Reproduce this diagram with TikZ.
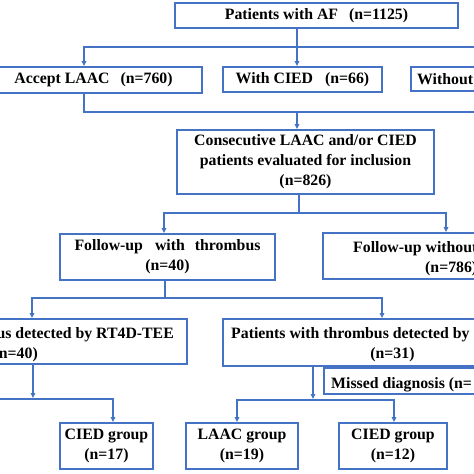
\documentclass[tikz,border=0pt]{standalone}
\usepackage{fontspec}
\setmainfont{Liberation Serif}
\usetikzlibrary{arrows.meta}
\definecolor{bl}{HTML}{4472C4}
\newcommand{\fsz}{\fontsize{15.8}{20}\selectfont\bfseries}
\begin{document}
\begin{tikzpicture}[x=1pt,y=-1pt,
  box/.style={draw=bl, line width=1.8pt, inner sep=0pt, align=center, font=\fsz},
  txt/.style={inner sep=0pt, font=\fsz},
  conn/.style={draw=bl, line width=1.8pt},
  arr/.style={conn, -{Triangle[length=5pt,width=4.5pt]}}]
\useasboundingbox (0,0) rectangle (474,474);
\clip (0,0) rectangle (474,474);
\fill[white] (0,0) rectangle (474,474);

% boxes
\node[box, minimum width=283pt, minimum height=25pt] (top) at (316.5,15.5) {Patients with AF\hspace{11pt}(n=1125)};
\node[box, minimum width=217pt, minimum height=26pt] (laac) at (93.5,80) {Accept LAAC\hspace{11pt}(n=760)};
\node[box, minimum width=159pt, minimum height=25pt] (cied) at (302.5,79.5) {With CIED\hspace{12pt}(n=66)};
\node[box, minimum width=200pt, minimum height=24pt] (without) at (511,79) {};
\node[box, minimum width=257pt, minimum height=64pt] (cons) at (305.5,162) {Consecutive LAAC and/or CIED\\patients evaluated for inclusion\\(n=826)};
\node[box, minimum width=215pt, minimum height=46pt] (fwith) at (167.5,257) {Follow-up\hspace{12pt}with\hspace{10pt}thrombus\\(n=40)};
\node[box, minimum width=255pt, minimum height=46pt] (fwo) at (450.5,256) {};
\node[box, minimum width=341pt, minimum height=45pt] (ldet) at (16.5,341.5) {};
\node[box, minimum width=339pt, minimum height=47pt] (rdet) at (392.5,342.5) {};
\node[box, minimum width=200pt, minimum height=26pt] (missed) at (424,381) {};
\node[box, minimum width=93pt, minimum height=46pt] (c17) at (106.5,446) {CIED group\\(n=17)};
\node[box, minimum width=112pt, minimum height=46pt] (l19) at (242,446) {LAAC group\\(n=19)};
\node[box, minimum width=108pt, minimum height=46pt] (c12) at (393,446) {CIED group\\(n=12)};

% texts of the boxes cut by the picture's edge
\node[txt, anchor=base west] (wotxt) at (417,84) {Without};
\node[txt, anchor=base west] (fwo1) at (353,252.5) {Follow-up without};
\node[txt, anchor=base west] (fwo2) at (425,272.5) {(n=786)};
\node[txt, anchor=base east] (ld1) at (174,338.5) {us detected by RT4D-TEE};
\node[txt, anchor=base east] (ld2) at (38,358.5) {n=40)};
\node[txt, anchor=base west] (rd1) at (231,338.5) {Patients with thrombus detected by};
\node[txt, anchor=base] (rd2) at (392.5,358.5) {(n=31)};
\node[txt, anchor=base west] (ms) at (331,388.5) {Missed diagnosis (n=};

% level 1
\coordinate (j1) at (297,47);
\coordinate (h1l) at (84,47);
\coordinate (h1r) at (511,47);
\draw[conn] (j1 |- top.south) -- (j1);
\draw[arr] (j1) -- (h1l) -- (h1l |- laac.north);
\draw[arr] (j1) -- (h1r) -- (h1r |- without.north);
\draw[arr] (j1) -- (j1 |- cied.north);

% level 2
\coordinate (h2l) at (84,112);
\coordinate (h2r) at (511,112);
\coordinate (j2) at (297,112);
\draw[conn] (h2l |- laac.south) -- (h2l) -- (h2r) -- (h2r |- without.south);
\draw[arr] (j2) -- (j2 |- cons.north);

% level 3
\coordinate (j3) at (299,213);
\coordinate (h3l) at (164,213);
\coordinate (h3r) at (446,213);
\draw[conn] (j3 |- cons.south) -- (j3);
\draw[arr] (j3) -- (h3l) -- (h3l |- fwith.north);
\draw[arr] (j3) -- (h3r) -- (h3r |- fwo.north);

% level 4
\coordinate (j4) at (165,298);
\coordinate (h4l) at (32,298);
\coordinate (h4r) at (382,298);
\draw[conn] (j4 |- fwith.south) -- (j4);
\draw[arr] (j4) -- (h4l) -- (h4l |- ldet.north);
\draw[arr] (j4) -- (h4r) -- (h4r |- rdet.north);

% level 5 left
\coordinate (j5) at (33,398);
\coordinate (h5l) at (-40,399);
\coordinate (h5r) at (113,399);
\draw[arr] (j5 |- ldet.south) -- (j5);
\draw[arr] (h5l) -- (h5r) -- (h5r |- c17.north);

% level 5 right
\coordinate (j6) at (313,399);
\coordinate (h6l) at (237,400);
\coordinate (h6r) at (394,400);
\draw[arr] (j6 |- rdet.south) -- (j6);
\draw[arr] (h6r) -- (h6l) -- (h6l |- l19.north);
\draw[arr] (h6l) -- (h6r) -- (h6r |- c12.north);
\end{tikzpicture}
\end{document}
